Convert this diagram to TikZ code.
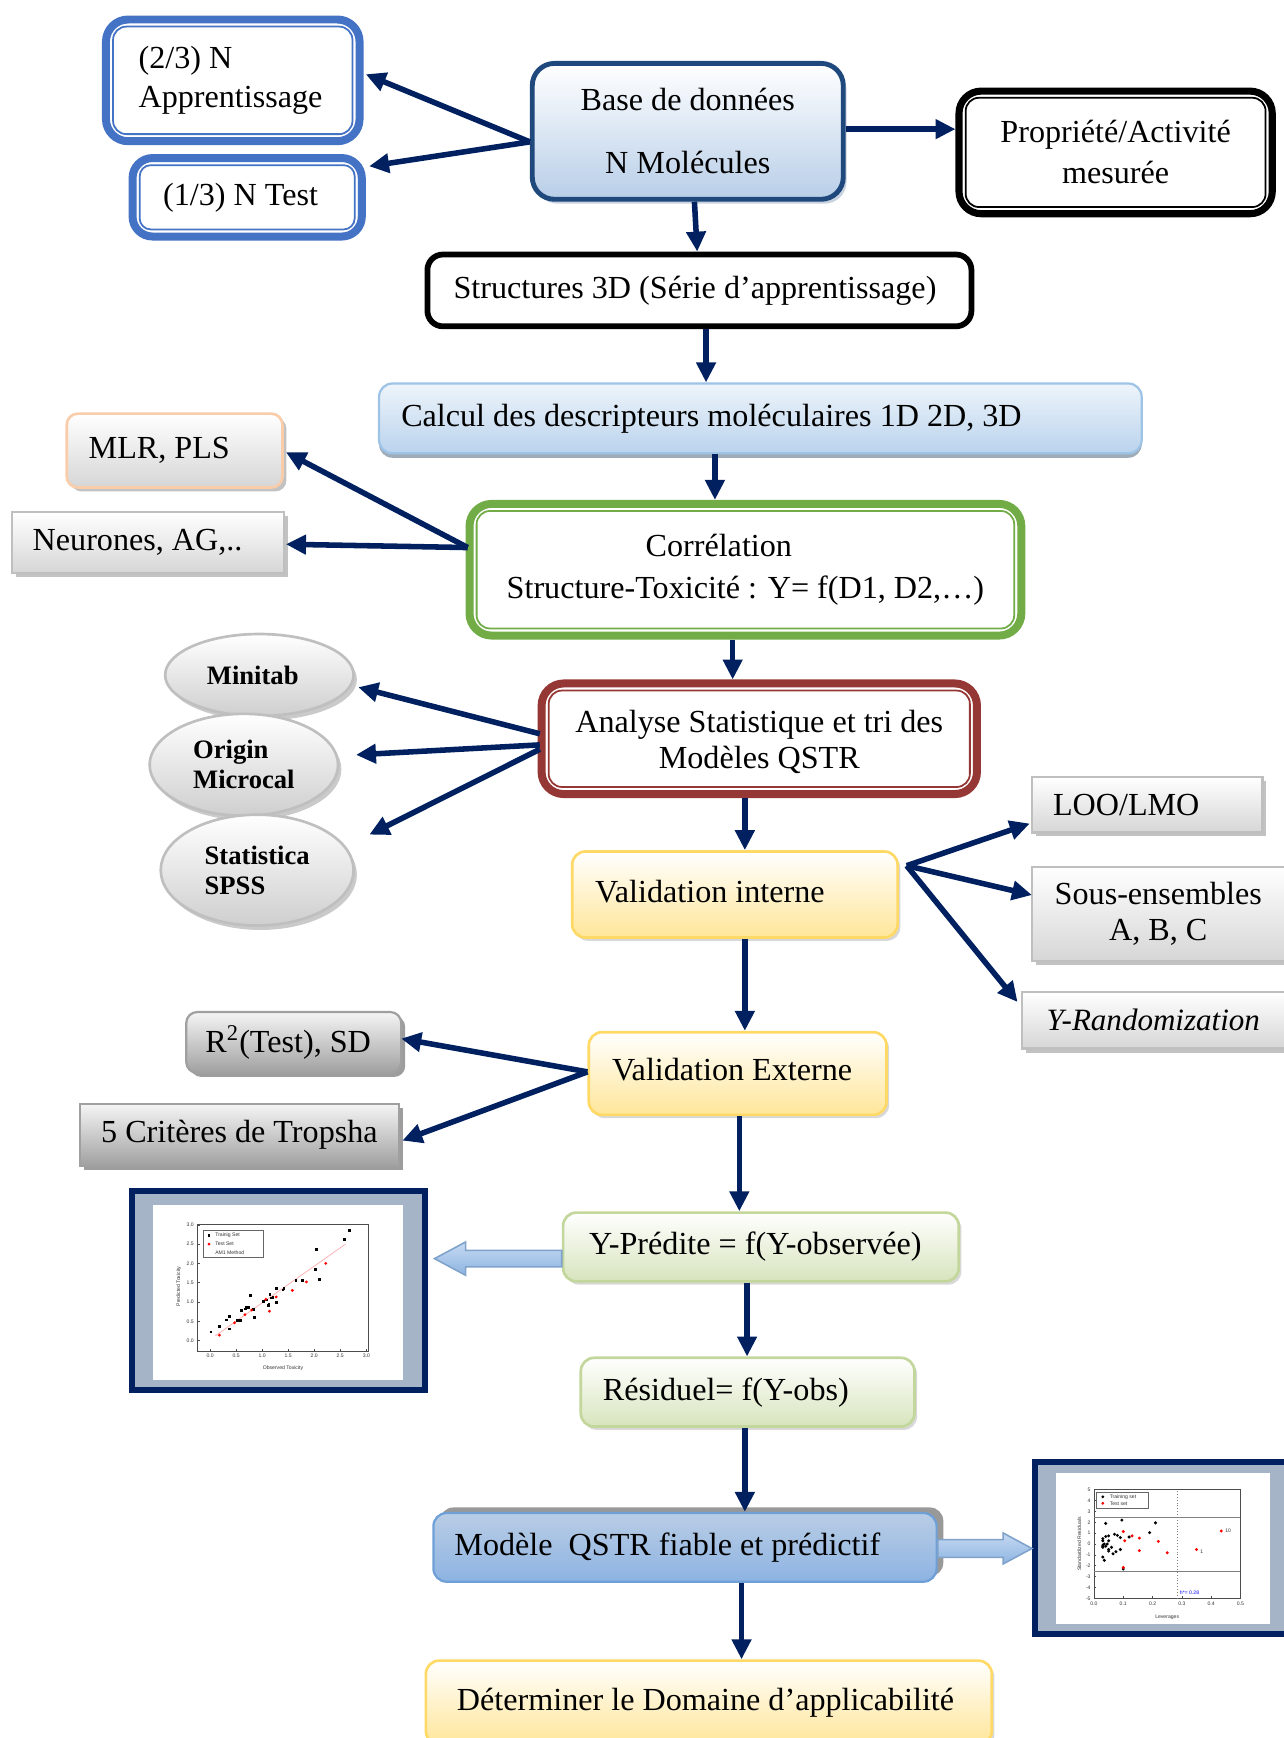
\documentclass[tikz,border=0pt]{standalone}
\usepackage{fontspec}
\setmainfont{Liberation Serif}
\setsansfont{Liberation Sans}
\usetikzlibrary{arrows.meta,calc,shadows,shapes.geometric}
\definecolor{navy}{RGB}{0,32,96}
\definecolor{frblue}{RGB}{68,114,196}
\definecolor{bdark}{RGB}{31,73,125}
\definecolor{bfill}{RGB}{184,206,232}
\definecolor{cfill}{RGB}{186,211,237}
\definecolor{cbord}{RGB}{157,195,230}
\definecolor{grn}{RGB}{114,172,70}
\definecolor{dred}{RGB}{149,55,53}
\definecolor{ybord}{RGB}{255,217,102}
\definecolor{yfill}{RGB}{255,230,153}
\definecolor{gbord}{RGB}{191,191,191}
\definecolor{gfill}{RGB}{214,214,214}
\definecolor{gdark}{RGB}{160,160,160}
\definecolor{peach}{RGB}{250,205,170}
\definecolor{lgbord}{RGB}{195,214,155}
\definecolor{lgfill}{RGB}{215,228,189}
\definecolor{mfill1}{RGB}{185,205,229}
\definecolor{mfill2}{RGB}{141,179,226}
\definecolor{mbord}{RGB}{110,160,215}
\definecolor{plotbg}{RGB}{166,180,200}
\definecolor{barr1}{RGB}{198,217,241}
\definecolor{barr2}{RGB}{141,180,226}
\newcommand\fs{\fontsize{14.5}{17}\selectfont}
\begin{document}
\begin{tikzpicture}[x=0.5pt,y=-0.5pt,
  box/.style={rectangle, inner sep=0pt, align=center, font=\fs},
  arr/.style={draw=navy, line width=2.5pt, -{Triangle[length=9pt,width=8.5pt]}},
  dblin/.style={line width=0.8pt, rounded corners=6pt},
  gshadow/.style={drop shadow={shadow xshift=1.8pt, shadow yshift=-1.8pt, fill=black!40, opacity=0.6}},
  lshadow/.style={drop shadow={shadow xshift=1.2pt, shadow yshift=-1.5pt, fill=black!30, opacity=0.5}},
  graybox/.style={box, draw=gbord, line width=1pt, top color=white, bottom color=gfill, gshadow},
  darkbox/.style={box, draw=gdark, line width=1pt, top color=gray!8, bottom color=gdark, drop shadow={shadow xshift=1.8pt, shadow yshift=-1.8pt, fill=black!55, opacity=0.7}},
  yelbox/.style={box, draw=ybord, line width=1.2pt, top color=white, bottom color=yfill, rounded corners=6pt, lshadow},
  grnbox/.style={box, draw=lgbord, line width=1.2pt, top color=white, bottom color=lgfill, rounded corners=6pt, lshadow},
  ell/.style={ellipse, inner sep=0pt, draw=gbord, line width=1.2pt, top color=white, bottom color=gray!38, align=flush left,
    font=\bfseries\fontsize{12}{13.5}\selectfont, drop shadow={shadow xshift=1.5pt, shadow yshift=-2pt, fill=black!35, opacity=0.6}},
  pframe/.style={rectangle, draw=navy, line width=2.75pt, fill=plotbg},
  ptx/.style={font=\sffamily\fontsize{2.3}{2.7}\selectfont, inner sep=0.3pt, text=black!80},
  blockarr/.style={draw=barr2!90!black, line width=0.7pt, top color=barr1, middle color=white!85!barr1, bottom color=barr2}
]
\useasboundingbox (0,0) rectangle (1158,1568);

% ---------- top row ----------
\node[box, draw=frblue, line width=3.6pt, rounded corners=10pt, fill=white,
  minimum width=114.4pt, minimum height=54.9pt, text width=85pt, align=flush left] (app) at (210,72.5)
  {(2/3) N\\[0.5pt]Apprentissage};
\draw[frblue, dblin] ([xshift=5pt,yshift=-5pt]app.north west) rectangle ([xshift=-5pt,yshift=5pt]app.south east);

\node[box, draw=frblue, line width=3.6pt, rounded corners=9pt, fill=white,
  minimum width=103.4pt, minimum height=35.4pt] (test) at (223,178) {(1/3) N Test\hspace*{6pt}};
\draw[frblue, dblin, rounded corners=5pt] ([xshift=5pt,yshift=-5pt]test.north west) rectangle ([xshift=-5pt,yshift=5pt]test.south east);

\node[box, draw=bdark, line width=2.2pt, rounded corners=10pt, top color=white, bottom color=bfill,
  minimum width=140.3pt, minimum height=61.3pt,
  drop shadow={shadow xshift=1.5pt, shadow yshift=-2pt, fill=bdark!40, opacity=0.6}] (base) at (620.5,118.5)
  {Base de données\\[11.5pt]N Molécules};

\node[box, draw=black, line width=3.2pt, rounded corners=10pt, fill=white,
  minimum width=141.3pt, minimum height=55.3pt] (prop) at (1006.5,137.5)
  {Propriété/Activité\\[1.5pt]mesurée};
\draw[black, dblin] ([xshift=4.6pt,yshift=-4.6pt]prop.north west) rectangle ([xshift=-4.6pt,yshift=4.6pt]prop.south east);

\node[box, draw=black, line width=2.6pt, rounded corners=7pt, fill=white,
  minimum width=245.4pt, minimum height=32.4pt] (struct) at (631,262)
  {Structures 3D (Série d’apprentissage)\hspace*{4pt}};

\node[box, draw=cbord, line width=1pt, rounded corners=6pt, top color=cfill!25, bottom color=cfill,
  minimum width=344pt, minimum height=31.5pt, text width=324pt, align=flush left,
  drop shadow={shadow xshift=0pt, shadow yshift=-2pt, fill=cbord!60!black, opacity=0.6}] (calc) at (686,377.5)
  {Calcul des descripteurs moléculaires 1D 2D, 3D};

% ---------- correlation row ----------
\node[box, draw=peach, line width=1.2pt, rounded corners=5pt, top color=white, bottom color=gfill,
  minimum width=97.3pt, minimum height=33.3pt, text width=77.5pt, align=flush left, gshadow] (mlr) at (157.5,406.5) {MLR, PLS};

\node[graybox, minimum width=122.5pt, minimum height=27.5pt, text width=104pt, align=flush left] (neur) at (133.5,489.5) {Neurones, AG,..};

\node[box, draw=grn, line width=3.6pt, rounded corners=10pt, fill=white,
  minimum width=248.9pt, minimum height=59.4pt] (corr) at (672.5,514)
  {Corrélation\hspace*{24pt}\\[2pt]Structure-Toxicité : Y= f(D1, D2,…)};
\draw[grn, dblin] ([xshift=5pt,yshift=-5pt]corr.north west) rectangle ([xshift=-5pt,yshift=5pt]corr.south east);

% ---------- ellipses ----------
\node[ell, minimum width=85pt, minimum height=37pt] (mini) at (234,609) {Minitab\hspace*{6pt}};
\node[ell, minimum width=85pt, minimum height=46pt] (orig) at (220,690) {Origin\\Microcal};
\node[ell, minimum width=87pt, minimum height=50pt] (stat) at (232,785) {Statistica\\SPSS};

\node[box, draw=dred, line width=3.6pt, rounded corners=10pt, fill=white,
  minimum width=196.4pt, minimum height=49.9pt] (ana) at (685,666.5)
  {\rule{0pt}{13pt}Analyse Statistique et tri des\\[-1pt]Modèles QSTR};
\draw[dred, dblin] ([xshift=5pt,yshift=-5pt]ana.north west) rectangle ([xshift=-5pt,yshift=5pt]ana.south east);

% ---------- validation ----------
\node[yelbox, minimum width=146.8pt, minimum height=38.8pt, text width=126pt, align=flush left] (vint) at (663,807)
  {\raisebox{3pt}{Validation interne}};

\node[graybox, minimum width=104pt, minimum height=25pt, text width=85pt, align=flush left] (loo) at (1035,726) {LOO/LMO};
\node[graybox, minimum width=114pt, minimum height=42.5pt] (sous) at (1045,824.5) {Sous-ensembles\\[-1pt]A, B, C};
\node[graybox, minimum width=118.5pt, minimum height=25.5pt, font=\itshape\fontsize{14}{16}\selectfont] (yr) at (1040.5,920.5) {Y-Randomization};

\node[darkbox, rounded corners=5pt, minimum width=97pt, minimum height=27.5pt] (r2) at (265,940.5) {R\textsuperscript{2}(Test), SD\hspace*{5pt}};
\node[darkbox, minimum width=144pt, minimum height=28pt] (crit) at (216,1024) {5 Critères de Tropsha};

\node[yelbox, minimum width=134.3pt, minimum height=37.3pt] (vext) at (665.5,968.5) {\raisebox{3.5pt}{Validation Externe}\hspace*{5pt}};

% ---------- plot 1 ----------
\node[pframe, minimum width=132.25pt, minimum height=89.75pt] (pf1) at (251,1164.5) {};
\fill[white] (138,1087) rectangle (364,1245);
\begin{scope}[shift={(189.5,1209.4)}, x=23.5pt, y=17.4pt]
  \draw[line width=0.3pt, black!70] (-0.25,-0.28) rectangle (3.04,3.0);
  \foreach \v [count=\k] in {0.0,0.5,1.0,1.5,2.0,2.5,3.0} {
    \draw[line width=0.25pt, black!70] (\v,-0.28) -- ++(0pt,1.2pt);
    \draw[line width=0.25pt, black!70] (-0.25,\v) -- ++(1.2pt,0pt);
    \node[ptx, anchor=north] (p1x\k) at (\v,-0.33) {\v};
    \node[ptx, anchor=east] (p1y\k) at (-0.29,\v) {\v};
  }
  \node[ptx] (p1xl) at (1.4,-0.72) {Observed Toxicity};
  \node[ptx, rotate=90] (p1yl) at (-0.6,1.4) {Predicted Toxicity};
  \draw[line width=0.2pt, black!60] (-0.13,2.86) rectangle (1.03,2.16);
  \fill (-0.02,2.72) ++(-0.6pt,-0.6pt) rectangle ++(1.2pt,1.2pt);
  \fill[red] (-0.02,2.5) circle[radius=0.7pt];
  \node[ptx, anchor=west] (p1l1) at (0.08,2.72) {Trainig Set};
  \node[ptx, anchor=west] (p1l2) at (0.08,2.5) {Test Set};
  \node[ptx, anchor=west] (p1l3) at (0.08,2.29) {AM1 Method};
  \draw[red!30, line width=0.35pt] (0.1,0.12) -- (2.6,2.5);
  \foreach \a/\b in {0.02/0.22,0.18/0.37,0.32/0.53,0.38/0.62,0.37/0.30,0.52/0.52,0.58/0.52,0.6/0.78,
     0.68/0.82,0.7/0.86,0.74/0.86,0.78/1.17,0.83/0.80,0.86/0.60,1.03/1.02,1.12/0.90,1.13/0.93,1.15/1.20,
     1.18/1.10,1.28/0.98,1.28/1.35,1.4/1.31,1.42/1.35,1.65/1.55,1.78/1.55,2.03/1.85,2.05/2.35,2.1/1.58,
     2.58/2.62,2.67/2.85,1.08/1.05,1.21/1.12}
     \fill (\a,\b) ++(-0.62pt,-0.62pt) rectangle ++(1.25pt,1.25pt);
  \foreach \a/\b in {0.18/0.14,0.47/0.46,0.67/0.67,0.8/0.79,1.07/1.07,1.14/0.76,1.27/1.13,1.58/1.30,1.85/1.52,2.22/2.0}
     \fill[red] (\a,\b) circle[radius=0.7pt];
\end{scope}

\node[grnbox, minimum width=178.5pt, minimum height=31pt] (ypred) at (686.5,1125) {Y-Prédite = f(Y-observée)\hspace*{5pt}};
\node[grnbox, minimum width=150.5pt, minimum height=31pt, text width=130.5pt, align=flush left] (resid) at (674.5,1256) {Résiduel= f(Y-obs)};

\node[box, draw=mbord, line width=1pt, rounded corners=6pt, top color=mfill1, bottom color=mfill2,
  minimum width=227pt, minimum height=31pt, text width=208pt, align=flush left,
  drop shadow={shadow xshift=3pt, shadow yshift=2.5pt, fill=gray!80, opacity=1}] (model) at (618,1396)
  {Modèle\ \ QSTR fiable et prédictif};

% ---------- plot 2 ----------
\node[pframe, minimum width=116.75pt, minimum height=77.75pt] (pf2) at (1050.5,1396.5) {};
\fill[white] (953,1329) rectangle (1146,1465);
\begin{scope}[shift={(987,1393)}, x=132pt, y=4.9pt]
  \draw[line width=0.3pt, black!70] (0,-5) rectangle (0.5,5);
  \draw[line width=0.25pt, black!50] (0,2.5) -- (0.5,2.5) (0,-2.5) -- (0.5,-2.5);
  \draw[line width=0.3pt, black!50, densely dotted] (0.286,-5) -- (0.286,5);
  \foreach \v [count=\k] in {0.0,0.1,0.2,0.3,0.4,0.5} {
    \draw[line width=0.25pt, black!70] (\v,-5) -- ++(0pt,1pt);
    \node[ptx, anchor=north] (p2x\k) at (\v,-5.25) {\v};
  }
  \foreach \v [count=\k] in {-5,-4,-3,-2,-1,0,1,2,3,4,5} {
    \draw[line width=0.25pt, black!70] (0,\v) -- ++(1pt,0pt);
    \node[ptx, anchor=east] (p2y\k) at (-0.008,\v) {\v};
  }
  \node[ptx] (p2xl) at (0.25,-6.75) {Leverages};
  \node[ptx, rotate=90] (p2yl) at (-0.05,0) {Standardized Residuals};
  \draw[line width=0.2pt, black!60] (0.008,4.77) rectangle (0.186,3.33);
  \fill (0.03,4.35) circle[radius=0.7pt];
  \fill[red] (0.03,3.75) circle[radius=0.7pt];
  \node[ptx, anchor=west] (p2l1) at (0.05,4.35) {Training set};
  \node[ptx, anchor=west] (p2l2) at (0.05,3.75) {Test set};
  \node[ptx, anchor=west, text=blue] (p2h) at (0.29,-4.45) {h*= 0.28};
  \node[ptx, anchor=west] (p2n10) at (0.445,1.25) {10};
  \node[ptx, anchor=west] (p2n1) at (0.36,-0.7) {1};
  \foreach \a/\b in {0.03/0.3,0.03/0.5,0.04/1.9,0.04/0.7,0.05/0.75,0.05/0.3,0.03/-0.1,0.03/-0.2,0.03/-0.3,
     0.04/-0.2,0.05/-0.5,0.06/-0.3,0.05/-0.65,0.065/-0.9,0.075/-0.7,0.03/-1.2,0.035/-1.5,0.07/0.9,0.08/0.8,
     0.09/0.6,0.095/2.2,0.09/-0.5,0.1/-2.3,0.12/0.65,0.19/1.05,0.21/1.95,0.045/0.0,0.035/0.0}
     \fill (\a,\b) circle[radius=0.75pt];
  \foreach \a/\b in {0.10/1.15,0.105/0.3,0.13/0.75,0.155/0.55,0.155/-0.6,0.22/0.25,0.25/-0.8,0.10/-2.15,0.35/-0.5,0.435/1.2}
     \fill[red] (\a,\b) circle[radius=0.75pt];
\end{scope}

\node[yelbox, minimum width=255.3pt, minimum height=37.8pt] (det) at (639.5,1536) {\raisebox{2.5pt}{Déterminer le Domaine d’applicabilité}\hspace*{3pt}};

% ---------- block arrows ----------
\coordinate (ba1s) at ($(ypred.west)+(0,10.5)$);
\coordinate (ba1t) at ($(pf1.east |- ba1s)+(6,0)$);
\shadedraw[blockarr] ($(ba1s)+(0,-7.5)$) -- ($(ba1t)+(28,-7.5)$) -- ($(ba1t)+(28,-15)$) -- (ba1t)
   -- ($(ba1t)+(28,15)$) -- ($(ba1t)+(28,7.5)$) -- ($(ba1s)+(0,7.5)$) -- cycle;
\coordinate (ba2s) at ($(model.east)+(0,1)$);
\coordinate (ba2t) at (pf2.west |- ba2s);
\shadedraw[blockarr] ($(ba2s)+(0,-8)$) -- ($(ba2t)+(-26,-8)$) -- ($(ba2t)+(-26,-14)$) -- (ba2t)
   -- ($(ba2t)+(-26,14)$) -- ($(ba2t)+(-26,8)$) -- ($(ba2s)+(0,8)$) -- cycle;

% ---------- arrows ----------
\coordinate (bsrc) at ($(base.west)+(0,9.5)$);
\draw[arr] (bsrc) -- ($(app.east)+(2,-5.5)$);
\draw[arr] (bsrc) -- ($(test.east)+(3,-28)$);
\draw[arr] ($(base.east)+(0,-2)$) coordinate (b1) -- (b1 -| prop.west);
\draw[arr] ($(base.south)+(6,0)$) -- ($(struct.north)+(-2,0)$);
\draw[arr] ($(struct.south)+(6,0)$) coordinate (a1) -- (a1 |- calc.north);
\draw[arr] ($(calc.south)+(-41,0)$) coordinate (a2) -- (a2 |- corr.north);
\coordinate (csrc) at ($(corr.west)+(2,-20)$);
\draw[arr] (csrc) -- ($(mlr.east)+(2,1.5)$);
\draw[arr] (csrc) -- ($(neur.east)+(1,1.5)$);
\draw[arr] ($(corr.south)+(-11.5,0)$) coordinate (a3) -- (a3 |- ana.north);
\draw[arr] ($(ana.west)+(2,-4.5)$) -- ($(mini.east)+(3,11)$);
\draw[arr] ($(ana.west)+(2,5.5)$) -- ($(orig.east)+(15,-9)$);
\draw[arr] ($(ana.west)+(2,9.5)$) -- ($(stat.east)+(13,-32)$);
\draw[arr] ($(ana.south)+(-13,0)$) coordinate (a4) -- (a4 |- vint.north);
\coordinate (vsrc) at ($(vint.east)+(7,-26)$);
\draw[arr] (vsrc) -- ($(loo.west)+(-1,17)$);
\draw[arr] (vsrc) -- ($(sous.west)+(1,-17)$);
\draw[arr] (vsrc) -- ($(yr.west)+(-3,-16.5)$);
\draw[arr] ($(vint.south)+(9,0)$) coordinate (a5) -- (a5 |- vext.north);
\coordinate (esrc) at ($(vext.west)+(0,-1.5)$);
\draw[arr] (esrc) -- ($(r2.east)+(-1,-3.5)$);
\draw[arr] (esrc) -- ($(crit.east)+(2,5)$);
\draw[arr] ($(vext.south)+(1.5,0)$) coordinate (a6) -- (a6 |- ypred.north);
\draw[arr] ($(ypred.south)+(-12.5,0)$) coordinate (a7) -- (a7 |- resid.north);
\draw[arr] ($(resid.south)+(-2.5,0)$) coordinate (a8) -- (a8 |- model.north);
\draw[arr] ($(model.south)+(51,0)$) coordinate (a9) -- (a9 |- det.north);
\end{tikzpicture}
\end{document}
